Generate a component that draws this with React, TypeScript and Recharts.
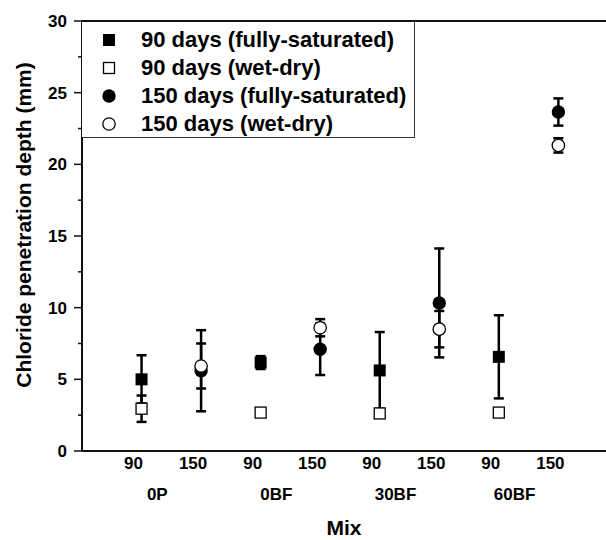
import React from "react";
import {
  ScatterChart,
  Scatter,
  XAxis,
  YAxis,
  ErrorBar,
  Legend,
  ReferenceLine,
  ReferenceDot,
} from "recharts";

const FONT = "'Liberation Sans', Arial, Helvetica, sans-serif";

// x positions: 1..8, two ages per mix
const mixes = ["0P", "0BF", "30BF", "60BF"];
const ages = ["90", "150"];
const pos90 = [1, 3, 5, 7];
const pos150 = [2, 4, 6, 8];
const mixPos = [1.5, 3.5, 5.5, 7.5];
const yTicks = [0, 2.5, 5, 7.5, 10, 12.5, 15, 17.5, 20, 22.5, 25, 27.5, 30];

const sat90 = [5.0, 6.17, 5.62, 6.57];
const sat90Err = [1.68, 0.45, 2.68, 2.9];
const wd90 = [2.95, 2.68, 2.62, 2.68];
const wd90Err = [0.92, 0.12, 0.3, 0.22];
const sat150 = [5.6, 7.1, 10.33, 23.65];
const sat150Err = [2.83, 1.8, 3.8, 0.95];
const wd150 = [5.93, 8.6, 8.5, 21.32];
const wd150Err = [1.57, 0.6, 1.27, 0.5];

const seriesNames = [
  "90 days (fully-saturated)",
  "90 days (wet-dry)",
  "150 days (fully-saturated)",
  "150 days (wet-dry)",
];
const seriesKinds = ["fsquare", "osquare", "fcircle", "ocircle"];

const toRows = (xs: number[], ys: number[], es: number[]) =>
  xs.map((x, i) => ({ x, y: ys[i], err: es[i] }));

const dSat90 = toRows(pos90, sat90, sat90Err);
const dWd90 = toRows(pos90, wd90, wd90Err);
const dSat150 = toRows(pos150, sat150, sat150Err);
const dWd150 = toRows(pos150, wd150, wd150Err);

const drawMarker = (kind: string, cx: number, cy: number) => {
  if (kind === "fsquare")
    return <rect x={cx - 6} y={cy - 6} width={12} height={12} fill="#000" />;
  if (kind === "osquare")
    return (
      <rect x={cx - 5.5} y={cy - 5.5} width={11} height={11} fill="#fff" stroke="#000" strokeWidth={1.3} />
    );
  if (kind === "fcircle") return <circle cx={cx} cy={cy} r={6.7} fill="#000" />;
  return <circle cx={cx} cy={cy} r={6.2} fill="#fff" stroke="#000" strokeWidth={1.3} />;
};

const shapeOf = (kind: string) => (props: any) => <g>{drawMarker(kind, props.cx, props.cy)}</g>;

const YTick = ({ x, y, payload }: any) => {
  const major = payload.value % 5 === 0;
  return (
    <g>
      <line x1={x - (major ? 8 : 4)} x2={x} y1={y} y2={y} stroke="#111" strokeWidth={1.5} />
      {major && (
        <text x={x - 15} y={y} dy={6} textAnchor="end" fontFamily={FONT} fontWeight="bold" fontSize={17} fill="#000">
          {payload.value}
        </text>
      )}
    </g>
  );
};

const AgeTick = ({ x, y, payload }: any) => (
  <text x={x} y={y} dx={-8} dy={18} textAnchor="middle" fontFamily={FONT} fontWeight="bold" fontSize={17} fill="#000">
    {ages[(payload.value - 1) % 2]}
  </text>
);

const mixLabel = (name: string) => (p: any) => (
  <text
    x={p.viewBox.x}
    y={p.viewBox.y}
    dx={-14}
    dy={49}
    textAnchor="middle"
    fontFamily={FONT}
    fontWeight="bold"
    fontSize={17}
    fill="#000"
  >
    {name}
  </text>
);

const LegendBox = () => (
  <div
    style={{
      width: 333,
      height: 116,
      boxSizing: "border-box",
      borderRight: "1px solid #333",
      borderBottom: "1px solid #333",
      paddingTop: 4,
      fontFamily: FONT,
      fontWeight: "bold",
      fontSize: 22,
      color: "#000",
      background: "#fff",
    }}
  >
    {seriesNames.map((name, i) => (
      <div key={name} style={{ height: 28, display: "flex", alignItems: "center" }}>
        <svg width={16} height={16} style={{ marginLeft: 19, marginRight: 24 }}>
          {drawMarker(seriesKinds[i], 8, 8)}
        </svg>
        <span>{name}</span>
      </div>
    ))}
  </div>
);

export default function App() {
  return (
    <div style={{ position: "absolute", left: 0, top: 0, background: "#fff" }}>
      <ScatterChart width={606} height={540} margin={{ top: 21, right: 0, bottom: 0, left: 0 }}>
        <XAxis
          type="number"
          dataKey="x"
          domain={[0, 8.8]}
          ticks={pos90.concat(pos150).sort((a, b) => a - b)}
          allowDataOverflow
          height={89}
          axisLine={{ stroke: "#111", strokeWidth: 2 }}
          tickLine={false}
          tickSize={0}
          tickMargin={0}
          interval={0}
          tick={<AgeTick />}
          label={{
            content: (p: any) => (
              <text
                x={p.viewBox.x + p.viewBox.width / 2}
                y={p.viewBox.y + 84}
                textAnchor="middle"
                fontFamily={FONT}
                fontWeight="bold"
                fontSize={21}
                fill="#000"
              >
                Mix
              </text>
            ),
          }}
        />
        <YAxis
          type="number"
          dataKey="y"
          domain={[0, 30]}
          ticks={yTicks}
          width={82}
          axisLine={{ stroke: "#111", strokeWidth: 2 }}
          tickLine={false}
          tickSize={0}
          tickMargin={0}
          interval={0}
          tick={<YTick />}
          label={{
            content: (p: any) => (
              <text
                transform={`translate(31, ${p.viewBox.y + p.viewBox.height / 2 - 11}) rotate(-90)`}
                textAnchor="middle"
                fontFamily={FONT}
                fontWeight="bold"
                fontSize={21}
                fill="#000"
              >
                Chloride penetration depth (mm)
              </text>
            ),
          }}
        />
        {mixPos.map((x, i) => (
          <ReferenceDot
            key={mixes[i]}
            x={x}
            y={0}
            r={0}
            fill="none"
            stroke="none"
            ifOverflow="visible"
            label={{ content: mixLabel(mixes[i]) }}
          />
        ))}
        <Legend
          layout="vertical"
          align="center"
          verticalAlign="middle"
          wrapperStyle={{ left: 82, top: 22, width: 333, height: 116 }}
          content={<LegendBox />}
        />
        <Scatter name={seriesNames[0]} data={dSat90} shape={shapeOf("fsquare")} isAnimationActive={false}>
          <ErrorBar dataKey="err" direction="y" width={5} strokeWidth={2.5} stroke="#000" />
        </Scatter>
        <Scatter name={seriesNames[1]} data={dWd90} shape={shapeOf("osquare")} isAnimationActive={false}>
          <ErrorBar dataKey="err" direction="y" width={5} strokeWidth={2.5} stroke="#000" />
        </Scatter>
        <Scatter name={seriesNames[2]} data={dSat150} shape={shapeOf("fcircle")} isAnimationActive={false}>
          <ErrorBar dataKey="err" direction="y" width={5} strokeWidth={2.5} stroke="#000" />
        </Scatter>
        <Scatter name={seriesNames[3]} data={dWd150} shape={shapeOf("ocircle")} isAnimationActive={false}>
          <ErrorBar dataKey="err" direction="y" width={5} strokeWidth={2.5} stroke="#000" />
        </Scatter>
        <ReferenceLine y={30} stroke="#111" strokeWidth={2} />
      </ScatterChart>
    </div>
  );
}
